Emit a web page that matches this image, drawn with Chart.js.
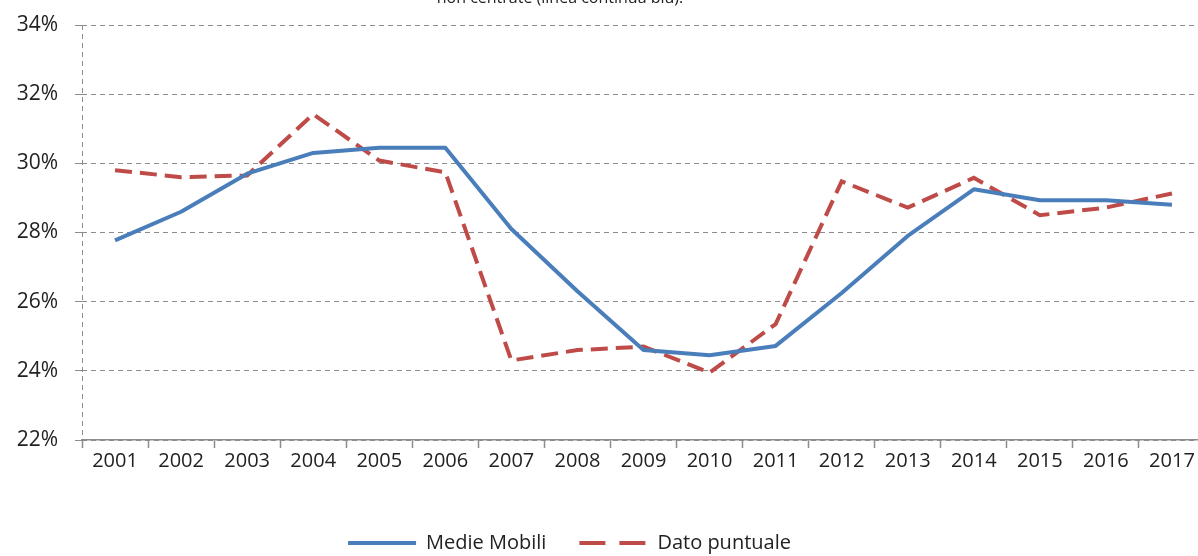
<!DOCTYPE html>
<html>
<head>
<meta charset="utf-8">
<script src="https://cdn.jsdelivr.net/npm/chart.js@4/dist/chart.umd.min.js"></script>
<style>
  html, body { margin: 0; padding: 0; background: #fff; overflow: hidden; }
  #wrap { position: relative; width: 1198px; height: 556px; overflow: hidden; }
  #note {
    position: absolute; top: -14px; left: 0; width: 1120px; text-align: center;
    font: 16px "Open Sans", sans-serif; color: #222;
  }
</style>
</head>
<body>
<div id="wrap">
  <canvas id="c" width="1220" height="563"></canvas>
  <div id="note">non centrate (linea continua blu).</div>
</div>
<script>
// values (percent)
const years = ['2001', '2002', '2003', '2004', '2005', '2006', '2007', '2008', '2009',
  '2010', '2011', '2012', '2013', '2014', '2015', '2016', '2017'];
const medieMobili = [27.77, 28.6, 29.7, 30.3, 30.45, 30.45, 28.1, 26.3, 24.6,
  24.45, 24.72, 26.25, 27.9, 29.25, 28.93, 28.93, 28.8];
const datoPuntuale = [29.8, 29.6, 29.65, 31.42, 30.08, 29.74, 24.3, 24.6, 24.7,
  23.95, 25.35, 29.48, 28.72, 29.58, 28.5, 28.72, 29.13];
const yTicks = [22, 24, 26, 28, 30, 32, 34];

const FONT = '"Open Sans", sans-serif';
const GRID = '#8c8c8c';

// the legend in the original sits a little left of centre
const legendShift = {
  id: 'legendShift',
  afterLayout(chart) { chart.legend.right -= 66; },
};

new Chart(document.getElementById('c'), {
  type: 'line',
  data: {
    labels: years,
    datasets: [
      {
        label: 'Medie Mobili', data: medieMobili,
        borderColor: '#4a7ebb', backgroundColor: '#4a7ebb',
        borderWidth: 4, pointRadius: 0, tension: 0, borderJoinStyle: 'round',
      },
      {
        label: 'Dato puntuale', data: datoPuntuale,
        borderColor: '#be4b48', backgroundColor: '#be4b48',
        borderWidth: 4, borderDash: [17, 8], pointRadius: 0, tension: 0,
      },
    ],
  },
  options: {
    responsive: false,
    animation: false,
    layout: { padding: { top: 25, right: 15, left: 0, bottom: 0 } },
    plugins: {
      tooltip: { enabled: false },
      legend: {
        position: 'bottom',
        labels: {
          color: '#222', font: { family: FONT, size: 20 },
          usePointStyle: true, pointStyle: 'line', pointStyleWidth: 68,
          padding: 33,
          generateLabels(chart) {
            const items = Chart.defaults.plugins.legend.labels.generateLabels(chart);
            items.forEach((it, i) => {
              const ds = chart.data.datasets[i];
              it.strokeStyle = ds.borderColor;
              it.lineWidth = 4;
              it.lineDash = ds.borderDash ? [26, 14] : [];
              it.pointStyle = 'line';
            });
            return items;
          },
        },
      },
    },
    scales: {
      x: {
        offset: true,
        afterFit: (s) => { s.height = 60; },
        grid: {
          offset: true, tickLength: 8, lineWidth: 1,
          color: (c) => (c.index === 0 ? GRID : 'rgba(0,0,0,0)'),
          tickColor: GRID, tickWidth: 1.5,
        },
        border: { color: GRID, width: 1.5, dash: [5, 4] },
        ticks: { color: '#222', font: { family: FONT, size: 20 }, padding: 1, maxRotation: 0, autoSkip: false },
      },
      y: {
        min: 22, max: 34,
        afterFit: (s) => { s.width = 82; s.paddingTop = 0; s.paddingBottom = 0; },
        afterBuildTicks: (s) => { s.ticks = yTicks.map((v) => ({ value: v })); },
        grid: { color: GRID, lineWidth: 1, tickLength: 7 },
        border: { display: false, dash: [5, 4] },
        ticks: { color: '#222', font: { family: FONT, size: 21 }, padding: 17, callback: (v) => v + '%' },
      },
    },
  },
  plugins: [legendShift],
});
</script>
</body>
</html>
